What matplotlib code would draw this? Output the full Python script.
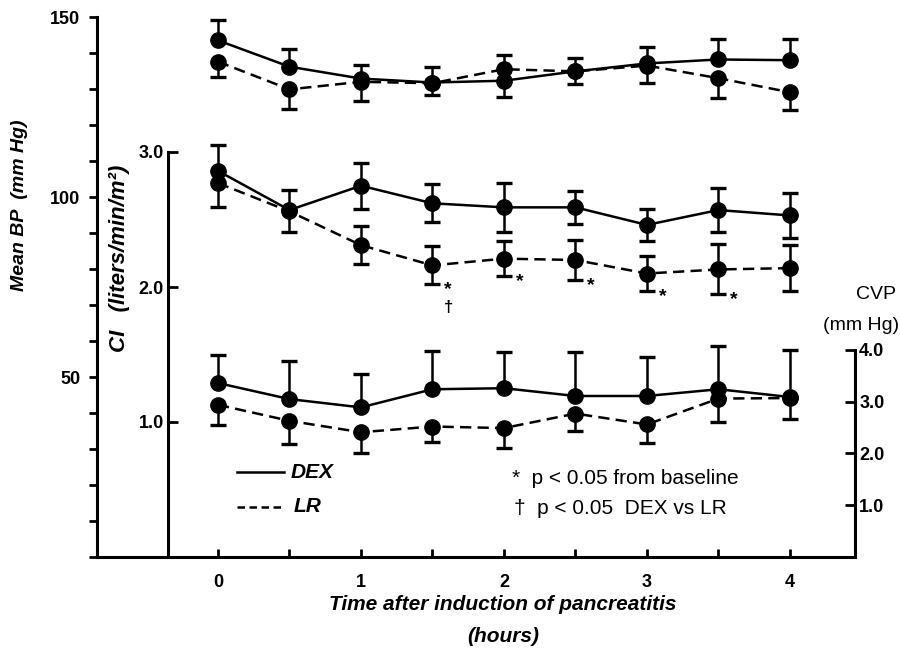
"""Mean BP, CI and CVP after induction of pancreatitis (DEX vs LR)."""
import matplotlib
matplotlib.use('Agg')
import matplotlib.pyplot as plt
from matplotlib.lines import Line2D
from matplotlib.ticker import MultipleLocator, FixedLocator, NullFormatter
import numpy as np

plt.rcParams['font.family'] = ['Liberation Sans', 'DejaVu Sans']

# ── data ─────────────────────────────────────────────────────────────────────
hours = [0, 0.5, 1, 1.5, 2, 2.5, 3, 3.5, 4]

bp_dex    = [143.5, 136.2, 132.9, 131.8, 132.3, 134.9, 137.1, 138.2, 138.0]
bp_dex_se = [5.6, 5.0, 3.8, 4.2, 4.5, 3.6, 4.7, 5.6, 5.8]
bp_lr     = [137.6, 129.9, 132.0, 131.6, 135.5, 134.9, 136.5, 133.0, 129.1]
bp_lr_se  = [4.3, 5.4, 5.3, 3.3, 4.0, 3.4, 4.9, 5.6, 5.0]

ci_dex    = [2.86, 2.57, 2.75, 2.62, 2.59, 2.59, 2.46, 2.57, 2.53]
ci_dex_se = [0.19, 0.15, 0.17, 0.14, 0.18, 0.12, 0.12, 0.16, 0.17]
ci_lr     = [2.77, 2.56, 2.31, 2.16, 2.21, 2.20, 2.10, 2.13, 2.14]
ci_lr_se  = [0.18, 0.15, 0.14, 0.14, 0.13, 0.15, 0.13, 0.185, 0.17]

cvp_dex    = [3.36, 3.05, 2.89, 3.24, 3.26, 3.11, 3.11, 3.24, 3.09]
cvp_dex_se = [0.54, 0.73, 0.64, 0.73, 0.69, 0.84, 0.75, 0.84, 0.91]
cvp_lr     = [2.94, 2.63, 2.41, 2.52, 2.49, 2.77, 2.56, 3.06, 3.07]
cvp_lr_se  = [0.39, 0.45, 0.41, 0.30, 0.39, 0.33, 0.35, 0.45, 0.41]

ci_star_idx = [3, 4, 5, 6, 7]     # p < 0.05 from baseline (LR)
ci_dagger_idx = [3]               # p < 0.05 DEX vs LR

W, H = 900, 650
def fx(px): return px / W
def fy(py): return 1 - py / H

LW = 1.8
fig = plt.figure(figsize=(9, 6.5), dpi=100)
rect = [fx(97), fy(557), fx(855) - fx(97), fy(17) - fy(557)]
ax_bp = fig.add_axes(rect)
ax_ci = fig.add_axes(rect)
ax_cvp = fig.add_axes(rect)

xmin, xmax = -0.846, 4.455
for a in (ax_bp, ax_ci, ax_cvp):
    a.set_xlim(xmin, xmax)
    a.patch.set_visible(False)
    for s in a.spines.values():
        s.set_visible(False)
        s.set_linewidth(2.2)

tick_font = dict(fontsize=13, fontweight='bold')

# ── outer axis: Mean BP ──────────────────────────────────────────────────────
ax_bp.set_ylim(0, 150)
ax_bp.spines['left'].set_visible(True)
ax_bp.spines['bottom'].set_visible(True)
ax_bp.yaxis.set_major_locator(FixedLocator([50, 100, 150]))
ax_bp.yaxis.set_minor_locator(MultipleLocator(10))
ax_bp.tick_params(axis='y', which='both', direction='out', length=6, width=2, pad=6)
ax_bp.xaxis.set_major_locator(FixedLocator([0, 1, 2, 3, 4]))
ax_bp.xaxis.set_minor_locator(FixedLocator([0.5, 1.5, 2.5, 3.5]))
ax_bp.xaxis.set_minor_formatter(NullFormatter())
ax_bp.tick_params(axis='x', which='both', direction='in', length=6, width=2, pad=12)
for lab in ax_bp.get_xticklabels() + ax_bp.get_yticklabels():
    lab.set_fontsize(13)
    lab.set_fontweight('bold')

# ── middle axis: CI ──────────────────────────────────────────────────────────
ax_ci.set_ylim(0, 4.0)
ax_ci.spines['left'].set_visible(True)
ax_ci.spines['left'].set_position(('axes', (168 - 97) / 758))
ax_ci.spines['left'].set_bounds(0, 3.0)
ax_ci.set_yticks([1.0, 2.0, 3.0])
ax_ci.set_yticklabels(['1.0', '2.0', '3.0'], **tick_font)
ax_ci.tick_params(axis='y', direction='in', length=7, width=2, pad=3)
ax_ci.xaxis.set_visible(False)

# ── right axis: CVP ──────────────────────────────────────────────────────────
ax_cvp.set_ylim(0, 10.43)
ax_cvp.spines['right'].set_visible(True)
ax_cvp.spines['right'].set_bounds(0, 4.0)
ax_cvp.yaxis.tick_right()
ax_cvp.set_yticks([1.0, 2.0, 3.0, 4.0])
ax_cvp.set_yticklabels(['1.0', '2.0', '3.0', '4.0'], **tick_font)
ax_cvp.tick_params(axis='y', direction='in', length=7, width=2, pad=3)
ax_cvp.xaxis.set_visible(False)


def bars(ax, y, lo, hi):
    x = np.asarray(hours, float)
    lo_y, hi_y = y - lo, y + hi
    ax.vlines(x, lo_y, hi_y, colors='black', lw=LW, zorder=2)
    for yy, err in ((lo_y, lo), (hi_y, hi)):
        keep = err > 0
        ax.plot(x[keep], yy[keep], linestyle='none', marker='_', ms=12, mew=2.4,
                color='black', zorder=2)


def draw_pair(ax, dex, dex_se, lr, lr_se):
    dex, dex_se = np.asarray(dex, float), np.asarray(dex_se, float)
    lr, lr_se = np.asarray(lr, float), np.asarray(lr_se, float)
    # where the groups overlap, each bar is drawn only away from the other group
    close = np.abs(dex - lr) < dex_se + lr_se
    dex_top = dex >= lr
    bars(ax, dex, np.where(close & dex_top, 0, dex_se), np.where(close & ~dex_top, 0, dex_se))
    bars(ax, lr, np.where(close & ~dex_top, 0, lr_se), np.where(close & dex_top, 0, lr_se))
    ax.plot(hours, dex, color='black', lw=LW, marker='o', ms=11, zorder=3)
    ax.plot(hours, lr, color='black', lw=LW, marker='o', ms=11, zorder=3,
            linestyle=(0, (4.5, 2.5)))


draw_pair(ax_bp, bp_dex, bp_dex_se, bp_lr, bp_lr_se)
draw_pair(ax_ci, ci_dex, ci_dex_se, ci_lr, ci_lr_se)
draw_pair(ax_cvp, cvp_dex, cvp_dex_se, cvp_lr, cvp_lr_se)

for i in ci_star_idx:
    ax_ci.text(hours[i] + 0.11, ci_lr[i] - ci_lr_se[i] - 0.04, '*',
               ha='center', va='center', fontsize=14, fontweight='bold')
for i in ci_dagger_idx:
    ax_ci.text(hours[i] + 0.11, ci_lr[i] - ci_lr_se[i] - 0.17, '†',
               ha='center', va='center', fontsize=12, fontweight='bold')

# ── axis labels ──────────────────────────────────────────────────────────────
lab_kw = dict(fontweight='bold', fontstyle='italic', ha='center', va='center')
fig.text(fx(20), fy(205), 'Mean BP  (mm Hg)', rotation=90, fontsize=14, **lab_kw)
fig.text(fx(120), fy(258), 'CI   (liters/min/m²)', rotation=90, fontsize=16, **lab_kw)
fig.text(fx(503), fy(605), 'Time after induction of pancreatitis', fontsize=15, **lab_kw)
fig.text(fx(503), fy(636), '(hours)', fontsize=15, **lab_kw)
fig.text(fx(876), fy(295), 'CVP', fontsize=14, ha='center', va='center')
fig.text(fx(899), fy(325), '(mm Hg)', fontsize=14, ha='right', va='center')

# ── legend ───────────────────────────────────────────────────────────────────
fig.add_artist(Line2D([fx(237), fx(284)], [fy(472), fy(472)], color='black', lw=LW))
fig.add_artist(Line2D([fx(237), fx(284)], [fy(507), fy(507)], color='black', lw=LW,
                      linestyle=(0, (3, 1.8))))
fig.text(fx(291), fy(472), 'DEX', fontsize=15, fontweight='bold', fontstyle='italic', va='center')
fig.text(fx(294), fy(507), 'LR', fontsize=15, fontweight='bold', fontstyle='italic', va='center')
fig.text(fx(512), fy(479), '*  p < 0.05 from baseline', fontsize=15, va='center')
fig.text(fx(514), fy(508), '†  p < 0.05  DEX vs LR', fontsize=15, va='center')

fig.savefig('out.png', dpi=100, facecolor='white')
